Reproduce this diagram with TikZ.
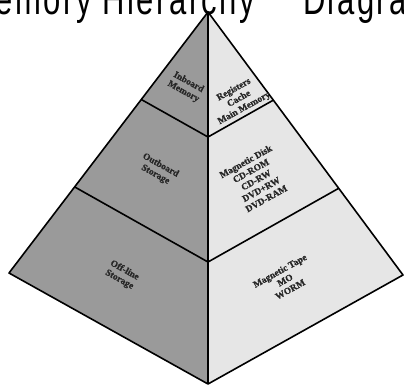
\documentclass[tikz,border=0pt]{standalone}
\usepackage{fontspec}
\setmainfont{Liberation Serif}
\newfontfamily\titlefont[LetterSpace=8]{Liberation Sans}
\newfontfamily\lblfont[FakeBold=0.8]{Liberation Serif Bold}
\definecolor{darkface}{HTML}{9A9A9A}
\definecolor{lightface}{HTML}{E6E6E6}
\begin{document}
\begin{tikzpicture}[x=1pt,y=-1pt,
  edge/.style={draw=black,line width=1.6pt,line join=round},
  lbl/.style={font=\lblfont\fontsize{9.4}{10.6}\selectfont,align=center,text=black!85,inner sep=0pt}]
\useasboundingbox (0,0) rectangle (404,385);
\coordinate (A) at (208,12);
\coordinate (L) at (9,273);
\coordinate (R) at (403,275);
\coordinate (B) at (208,384);
\coordinate (P1L) at (141.3,99.5);
\coordinate (P1R) at (273.4,100.1);
\coordinate (C1) at (208,137);
\coordinate (P2L) at (74.6,186.9);
\coordinate (P2R) at (338.7,188.3);
\coordinate (C2) at (208,262);
\fill[darkface] (A) -- (L) -- (B) -- cycle;
\fill[lightface] (A) -- (R) -- (B) -- cycle;
\draw[edge] (A) -- (L) -- (B) -- (R) -- cycle;
\draw[edge] (A) -- (B);
\draw[edge] (P1L) -- (C1) -- (P1R);
\draw[edge] (P2L) -- (C2) -- (P2R);
\node[lbl,rotate=-29] (inb) at (186,87) {Inboard\\Memory};
\node[lbl,rotate=29] (reg) at (239,99) {Registers\\Cache\\Main Memory};
\node[lbl,rotate=-29] (outb) at (158,170) {Outboard\\Storage};
\node[lbl,rotate=29] (disk) at (256,180) {Magnetic Disk\\CD-ROM\\CD-RW\\DVD+RW\\DVD-RAM};
\node[lbl,rotate=-29] (off) at (122,275) {Off-line\\Storage};
\node[lbl,rotate=29] (tape) at (285,280) {Magnetic Tape\\MO\\WORM};
\node[anchor=base west,inner sep=0pt,font=\titlefont\fontsize{31}{36}\selectfont] (title) at (-33,15) {\scalebox{1}[1.4]{Memory Hierarchy\hspace{48pt}Diagram}};
\end{tikzpicture}
\end{document}
